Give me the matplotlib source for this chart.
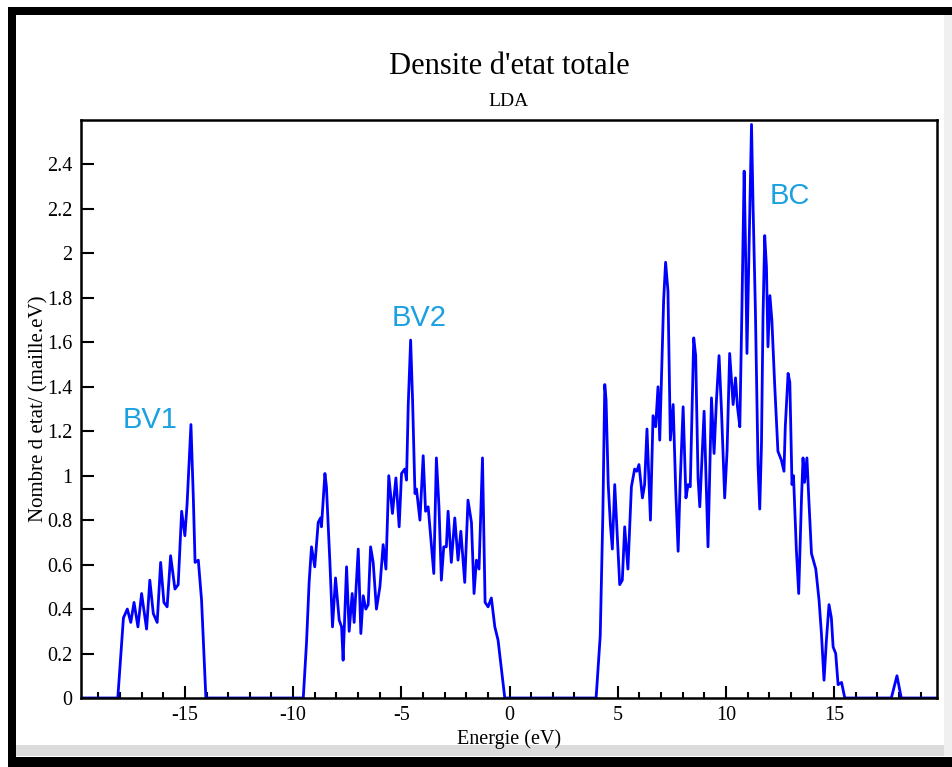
import numpy as np
import matplotlib.pyplot as plt
from matplotlib.patches import Rectangle
from matplotlib.ticker import MultipleLocator, FixedLocator, FuncFormatter

# Bandes de valence et de conduction (energie en eV, DOS en etats/maille.eV)
bv1_e = [-18.1, -17.84, -17.66, -17.5, -17.35, -17.17, -17.0, -16.77, -16.62, -16.46,
         -16.28, -16.12, -15.97, -15.82, -15.66, -15.46, -15.31, -15.15, -15.0, -14.9,
         -14.72, -14.61, -14.53, -14.38, -14.23, -14.03]
bv1_d = [0, 0.36, 0.40, 0.34, 0.43, 0.32, 0.47, 0.31, 0.53, 0.38,
         0.34, 0.61, 0.43, 0.41, 0.64, 0.49, 0.51, 0.84, 0.73, 0.87,
         1.23, 0.90, 0.61, 0.62, 0.44, 0]

bv2_e = [-9.53, -9.38, -9.26, -9.15, -9.0, -8.84, -8.73, -8.69, -8.53, -8.46,
         -8.30, -8.18, -8.04, -7.87, -7.76, -7.69, -7.53, -7.41, -7.27, -7.18,
         -6.99, -6.87, -6.76, -6.64, -6.53, -6.42, -6.30, -6.15, -5.99, -5.84,
         -5.71, -5.58, -5.41, -5.25, -5.10, -4.99, -4.84, -4.76, -4.68, -4.57,
         -4.48, -4.37, -4.30, -4.14, -3.99, -3.88, -3.76, -3.50, -3.38, -3.26,
         -3.15, -3.04, -2.92, -2.84, -2.69, -2.53, -2.38, -2.25, -2.07, -1.92,
         -1.76, -1.64, -1.53, -1.41, -1.25, -1.13, -0.99, -0.84, -0.68, -0.53,
         -0.22]
bv2_d = [0, 0.25, 0.52, 0.68, 0.59, 0.79, 0.81, 0.77, 1.01, 0.95,
         0.61, 0.32, 0.54, 0.35, 0.32, 0.17, 0.59, 0.30, 0.47, 0.34,
         0.67, 0.29, 0.46, 0.40, 0.42, 0.68, 0.61, 0.40, 0.50, 0.69,
         0.58, 1.00, 0.83, 0.99, 0.77, 1.01, 1.03, 0.98, 1.32, 1.61,
         1.34, 0.92, 0.94, 0.80, 1.09, 0.84, 0.86, 0.56, 1.08, 0.86,
         0.53, 0.68, 0.68, 0.84, 0.61, 0.81, 0.62, 0.75, 0.52, 0.89,
         0.79, 0.47, 0.62, 0.58, 1.08, 0.43, 0.41, 0.45, 0.32, 0.26,
         0]

bc_e = [4.0, 4.19, 4.31, 4.40, 4.46, 4.56, 4.66, 4.75, 4.86, 4.93,
        5.09, 5.21, 5.32, 5.47, 5.63, 5.78, 5.88, 5.98, 6.14, 6.24,
        6.35, 6.51, 6.63, 6.75, 6.86, 6.94, 7.02, 7.12, 7.21, 7.32,
        7.43, 7.56, 7.68, 7.79, 7.88, 8.02, 8.15, 8.25, 8.35, 8.51,
        8.60, 8.71, 8.79, 8.99, 9.17, 9.33, 9.45, 9.56, 9.68, 9.79,
        9.94, 10.05, 10.17, 10.33, 10.44, 10.53, 10.64, 10.74, 10.84, 10.90,
        10.97, 11.04, 11.18, 11.25, 11.36, 11.48, 11.56, 11.64, 11.71, 11.79,
        11.87, 11.94, 12.03, 12.12, 12.25, 12.40, 12.56, 12.68, 12.74, 12.87,
        12.95, 13.05, 13.12, 13.18, 13.25, 13.36, 13.49, 13.56, 13.63, 13.74,
        13.83, 13.95, 14.15, 14.30, 14.41, 14.53, 14.64, 14.76, 14.87, 14.95,
        15.07, 15.18, 15.34, 15.49]
bc_d = [0, 0.28, 0.82, 1.41, 1.34, 0.96, 0.78, 0.67, 0.96, 0.82,
        0.51, 0.53, 0.77, 0.58, 0.95, 1.03, 1.02, 1.05, 0.90, 0.96,
        1.21, 0.80, 1.27, 1.22, 1.40, 1.16, 1.44, 1.79, 1.96, 1.83,
        1.16, 1.32, 0.93, 0.66, 0.96, 1.31, 0.90, 0.96, 0.95, 1.62,
        1.54, 0.99, 0.86, 1.29, 0.68, 1.35, 1.10, 1.34, 1.54, 1.30,
        0.90, 1.11, 1.55, 1.32, 1.44, 1.31, 1.22, 1.77, 2.37, 2.04,
        1.55, 1.89, 2.58, 2.22, 1.74, 1.05, 0.85, 1.14, 1.71, 2.08,
        1.94, 1.58, 1.81, 1.70, 1.41, 1.11, 1.07, 1.02, 1.22, 1.46,
        1.42, 0.96, 1.00, 0.85, 0.67, 0.47, 0.90, 1.08, 0.97, 1.08,
        0.89, 0.65, 0.58, 0.44, 0.29, 0.08, 0.26, 0.42, 0.36, 0.23,
        0.20, 0.06, 0.07, 0]

pic_e = [17.64, 17.90, 18.10]
pic_d = [0, 0.10, 0]

energie = np.concatenate([[-19.8], bv1_e, bv2_e, bc_e, pic_e, [19.8]])
dos = np.concatenate([[0], bv1_d, bv2_d, bc_d, pic_d, [0]])

graduations_y = [0, 0.2, 0.4, 0.6, 0.8, 1, 1.2, 1.4, 1.6, 1.8, 2, 2.2, 2.4]

etiquettes = ['BV1', 'BV2', 'BC']
etiq_e = [-16.62, -4.19, 12.95]
etiq_d = [1.25, 1.71, 2.26]

plt.rcParams['font.family'] = ['Liberation Serif', 'DejaVu Serif']
plt.rcParams['axes.unicode_minus'] = False

fig = plt.figure(figsize=(9.52, 7.67), dpi=100)
W, H = 952.0, 767.0


def cadre(x0, y0, x1, y1, couleur):
    # rectangle en pixels (origine en haut a gauche)
    fig.add_artist(Rectangle((x0 / W, 1 - y1 / H), (x1 - x0) / W, (y1 - y0) / H,
                             transform=fig.transFigure, color=couleur, lw=0, zorder=-5))


cadre(16, 745, 952, 756, '#dcdcdc')
cadre(944, 15, 952, 756, '#f0f0f0')
cadre(8, 7, 952, 15, 'black')
cadre(8, 7, 16, 767, 'black')
cadre(8, 757, 952, 767, 'black')

ax = fig.add_axes([81 / W, 1 - 698 / H, (937 - 81) / W, (698 - 120) / H])
ax.plot(energie, dos, color='#0000ff', lw=2.0)

ax.set_xlim(-19.8, 19.75)
ax.set_ylim(0, 2.6)
ax.xaxis.set_major_locator(MultipleLocator(5))
ax.xaxis.set_minor_locator(MultipleLocator(1))
ax.yaxis.set_major_locator(FixedLocator(graduations_y))
ax.yaxis.set_major_formatter(FuncFormatter(lambda v, p: '%g' % round(v, 2)))
ax.tick_params(axis='both', which='major', direction='in', length=9, width=1.5,
               labelsize=14.5, pad=6)
ax.tick_params(axis='x', which='minor', direction='in', length=4.5, width=1.5)
ax.tick_params(top=False, right=False, which='both')
for s in ax.spines.values():
    s.set_linewidth(1.8)

ax.set_xlabel('Energie (eV)', fontsize=14.5, labelpad=3)
ax.set_ylabel("Nombre d etat/ (maille.eV)", fontsize=15, labelpad=-1)

fig.text(509 / W, 1 - 67 / H, "Densite d'etat totale", fontsize=22, ha='center', va='center')
fig.text(509 / W, 1 - 101 / H, 'LDA', fontsize=14, ha='center', va='center')

for t, e, d in zip(etiquettes, etiq_e, etiq_d):
    ax.text(e, d, t, fontsize=21, color='#1ba1e2', ha='center', va='center',
            family=['Liberation Sans', 'DejaVu Sans'])

fig.savefig('out.png', dpi=100)
